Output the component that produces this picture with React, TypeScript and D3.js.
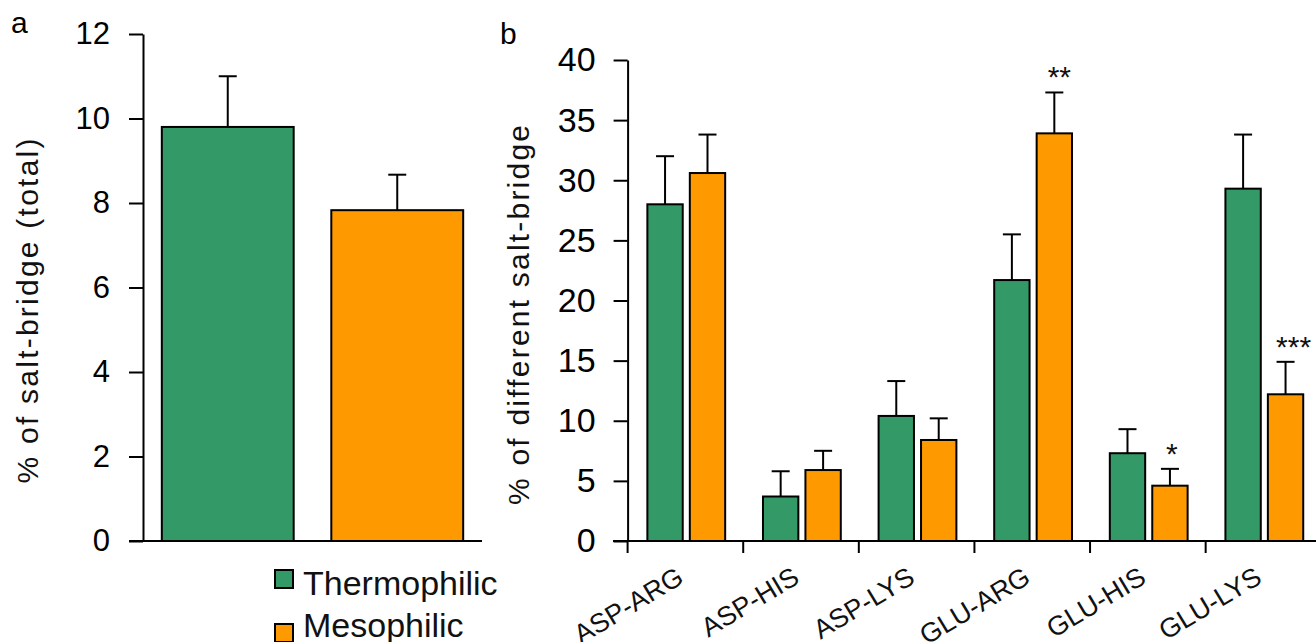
import React, { useEffect, useRef } from 'react';
import * as d3 from 'd3';

const groups = ['Thermophilic', 'Mesophilic'];
const groupColors = ['#339966', '#ff9900'];

// panel a: total salt-bridges
const totalMean = [9.8, 7.83];
const totalErr = [1.2, 0.84];
const totalTicks = [0, 2, 4, 6, 8, 10, 12];

// panel b: salt-bridge types
const pairs = ['ASP-ARG', 'ASP-HIS', 'ASP-LYS', 'GLU-ARG', 'GLU-HIS', 'GLU-LYS'];
const thermoMean = [28.0, 3.7, 10.4, 21.7, 7.3, 29.3];
const thermoErr = [4.0, 2.1, 2.9, 3.8, 2.0, 4.5];
const mesoMean = [30.6, 5.9, 8.4, 33.9, 4.6, 12.2];
const mesoErr = [3.2, 1.6, 1.8, 3.4, 1.4, 2.7];
const mesoStars = ['', '', '', '**', '*', '***'];
const pairTicks = [0, 5, 10, 15, 20, 25, 30, 35, 40];

const FONT = '"Liberation Sans", Arial, sans-serif';

// posiciones de la leyenda (cuadro, línea base del texto)
const legendRows = [
  { box: 570, base: 595 },
  { box: 624, base: 637 },
];

const App = () => {
  const ref = useRef<SVGSVGElement>(null);

  useEffect(() => {
    const svg = d3.select(ref.current);
    svg.selectAll('*').remove();

    // barra con su error
    const bar = (g, x, w, y, v, e, color) => {
      g.append('rect')
        .attr('x', x).attr('y', y(v))
        .attr('width', w).attr('height', y(0) - y(v))
        .attr('fill', color).attr('stroke', '#000').attr('stroke-width', 2);
      const cx = x + w / 2;
      g.append('line')
        .attr('x1', cx).attr('x2', cx).attr('y1', y(v)).attr('y2', y(v + e))
        .attr('stroke', '#000').attr('stroke-width', 2);
      g.append('line')
        .attr('x1', cx - 9).attr('x2', cx + 9).attr('y1', y(v + e)).attr('y2', y(v + e))
        .attr('stroke', '#000').attr('stroke-width', 2);
    };

    const styleAxis = (g, size) => {
      g.select('.domain').attr('stroke', '#000').attr('stroke-width', 2);
      g.selectAll('.tick line').attr('stroke', '#000').attr('stroke-width', 2);
      g.selectAll('.tick text')
        .attr('font-family', FONT).attr('font-size', size).attr('fill', '#000');
      g.attr('font-family', FONT).attr('font-size', size);
    };

    // ---------- panel a ----------
    const ya = d3.scaleLinear().domain([0, 12]).range([541, 34]);
    const xa = d3.scaleBand().domain(groups).range([143, 482])
      .paddingInner(0.222).paddingOuter(0.111);

    const ga = svg.append('g');
    groups.forEach((grp, i) => {
      bar(ga, xa(grp), xa.bandwidth(), ya, totalMean[i], totalErr[i], groupColors[i]);
    });

    const yaxA = ga.append('g').attr('transform', 'translate(143,0)')
      .call(d3.axisLeft(ya).tickValues(totalTicks).tickSize(14).tickSizeOuter(0).tickPadding(19));
    styleAxis(yaxA, 31);

    ga.append('line')
      .attr('x1', 129).attr('x2', 482).attr('y1', ya(0)).attr('y2', ya(0))
      .attr('stroke', '#000').attr('stroke-width', 2);

    ga.append('text')
      .attr('transform', 'translate(38,311) rotate(-90)')
      .attr('text-anchor', 'middle')
      .attr('font-family', FONT).attr('font-size', 30).attr('fill', '#111')
      .attr('textLength', 345).attr('lengthAdjust', 'spacing')
      .text('% of salt-bridge (total)');

    ga.append('text')
      .attr('x', 11).attr('y', 33)
      .attr('font-family', FONT).attr('font-size', 30).attr('fill', '#000')
      .text('a');

    // leyenda
    groups.forEach((grp, i) => {
      ga.append('rect')
        .attr('x', 275).attr('y', legendRows[i].box).attr('width', 18).attr('height', 18)
        .attr('fill', groupColors[i]).attr('stroke', '#000').attr('stroke-width', 2);
      ga.append('text')
        .attr('x', 303).attr('y', legendRows[i].base)
        .attr('font-family', FONT).attr('font-size', 34).attr('fill', '#111')
        .text(grp);
    });

    // ---------- panel b ----------
    const yb = d3.scaleLinear().domain([0, 40]).range([541, 60]);
    const xb = d3.scaleBand().domain(pairs).range([627.6, 1323])
      .paddingInner(0.327).paddingOuter(0.171);
    const xs = d3.scaleBand().domain(groups).range([0, xb.bandwidth()]).paddingInner(0.167);

    const gb = svg.append('g');
    pairs.forEach((p, i) => {
      const x0 = xb(p);
      bar(gb, x0 + xs('Thermophilic'), xs.bandwidth(), yb, thermoMean[i], thermoErr[i], groupColors[0]);
      bar(gb, x0 + xs('Mesophilic'), xs.bandwidth(), yb, mesoMean[i], mesoErr[i], groupColors[1]);
      if (mesoStars[i]) {
        gb.append('text')
          .attr('x', x0 + xs('Mesophilic') + xs.bandwidth() / 2 + 2 + (mesoStars[i].length - 1) * 3)
          .attr('y', yb(mesoMean[i] + mesoErr[i]) - 5)
          .attr('text-anchor', 'middle')
          .attr('font-family', FONT).attr('font-size', 30).attr('fill', '#111')
          .text(mesoStars[i]);
      }
    });

    const yaxB = gb.append('g').attr('transform', 'translate(627.6,0)')
      .call(d3.axisLeft(yb).tickValues(pairTicks).tickSize(14).tickSizeOuter(0).tickPadding(18));
    styleAxis(yaxB, 34);

    gb.append('line')
      .attr('x1', 613).attr('x2', 1316).attr('y1', yb(0)).attr('y2', yb(0))
      .attr('stroke', '#000').attr('stroke-width', 2);

    pairs.forEach((p) => {
      const tx = xb(p) - xb.step() * xb.paddingOuter();
      gb.append('line')
        .attr('x1', tx).attr('x2', tx).attr('y1', yb(0)).attr('y2', yb(0) + 12)
        .attr('stroke', '#000').attr('stroke-width', 2);
      const cx = xb(p) + xb.bandwidth() / 2 - 1;
      gb.append('text')
        .attr('transform', `translate(${cx},582) rotate(-31)`)
        .attr('text-anchor', 'end')
        .attr('font-family', FONT).attr('font-size', 27).attr('fill', '#111')
        .text(p);
    });

    gb.append('text')
      .attr('transform', 'translate(529,315) rotate(-90)')
      .attr('text-anchor', 'middle')
      .attr('font-family', FONT).attr('font-size', 30).attr('fill', '#111')
      .attr('textLength', 380).attr('lengthAdjust', 'spacing')
      .text('% of different salt-bridge');

    gb.append('text')
      .attr('x', 500).attr('y', 44)
      .attr('font-family', FONT).attr('font-size', 30).attr('fill', '#000')
      .text('b');

    return () => {
      svg.selectAll('*').remove();
    };
  }, []);

  return (
    <svg
      ref={ref}
      width={1316}
      height={642}
      style={{ position: 'absolute', left: 0, top: 0, background: '#fff' }}
    />
  );
};

export default App;
